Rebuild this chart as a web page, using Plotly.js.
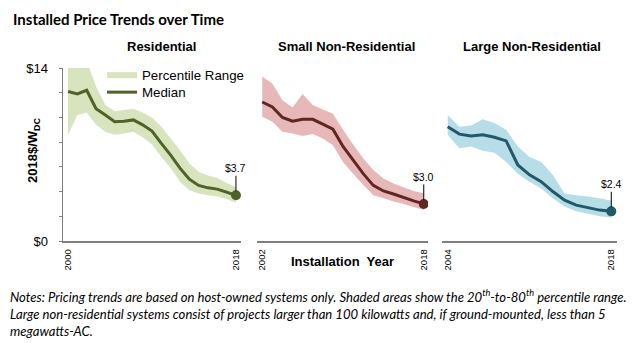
<!DOCTYPE html>
<html>
<head>
<meta charset="utf-8">
<script src="https://cdn.plot.ly/plotly-3.0.1.min.js"></script>
<style>html,body{margin:0;padding:0;background:#fff;}#chart{width:635px;height:343px;}</style>
</head>
<body>
<div id="chart"></div>
<script>
// ---- Data ----
const resYears = [2000,2001,2002,2003,2004,2005,2006,2007,2008,2009,2010,2011,2012,2013,2014,2015,2016,2017,2018];
const resMedian = [12.1,11.9,12.2,10.7,10.2,9.65,9.7,9.8,9.4,8.9,7.9,6.95,5.9,5.0,4.5,4.3,4.2,3.95,3.7];
const resUpper  = [15.0,15.0,14.6,12.5,11.0,10.5,10.6,10.7,10.4,10.0,9.25,8.3,7.35,6.3,5.6,5.3,5.1,4.7,4.35];
const resLower  = [8.6,10.2,10.4,9.4,8.85,8.6,8.7,8.85,8.4,7.8,6.8,5.9,4.8,4.1,3.85,3.7,3.6,3.4,3.1];

const smlYears = [2002,2003,2004,2005,2006,2007,2008,2009,2010,2011,2012,2013,2014,2015,2016,2017,2018];
const smlMedian = [11.25,10.85,10.0,9.7,9.85,9.85,9.45,9.05,7.65,6.55,5.45,4.5,4.05,3.8,3.5,3.25,3.0];
const smlUpper  = [13.3,12.75,11.4,10.8,11.9,11.0,10.65,10.3,9.0,7.8,6.7,5.75,5.05,4.65,4.35,4.05,3.85];
const smlLower  = [10.05,9.65,8.85,8.7,8.5,8.65,8.3,7.75,6.4,5.45,4.55,3.7,3.45,3.2,3.0,2.75,2.5];

const lrgYears = [2004,2005,2006,2007,2008,2009,2010,2011,2012,2013,2014,2015,2016,2017,2018];
const lrgMedian = [9.25,8.65,8.5,8.6,8.4,8.1,6.15,5.35,4.8,4.0,3.3,2.9,2.7,2.5,2.4];
const lrgUpper  = [10.2,9.25,9.35,9.85,9.55,9.0,7.65,6.8,6.4,5.35,3.85,3.7,3.6,3.45,3.25];
const lrgLower  = [8.6,7.5,7.65,7.3,7.15,6.4,5.45,4.8,4.25,3.45,2.8,2.4,2.2,2.0,1.9];

const endLabels = ['$3.7','$3.0','$2.4'];
const panelTitles = ['Residential','Small Non-Residential','Large Non-Residential'];
const yTickVals = [0,14];
const yTickText = ['$0','$14'];

const panels = [
  {years: resYears, med: resMedian, up: resUpper, lo: resLower, band: '#d7e4bd', line: '#4f6228', xa: 'x', range: [1999.46, 2018.54], dom: [63/635, 241/635], tx: 161},
  {years: smlYears, med: smlMedian, up: smlUpper, lo: smlLower, band: '#e6b9b8', line: '#632523', xa: 'x2', range: [2001.48, 2018.42], dom: [257/635, 428/635], tx: 346},
  {years: lrgYears, med: lrgMedian, up: lrgUpper, lo: lrgLower, band: '#b7dde8', line: '#215968', xa: 'x3', range: [2003.51, 2018.49], dom: [442/635, 617/635], tx: 532}
];

const traces = [];
const annotations = [];
panels.forEach((p, i) => {
  const bandX = p.years.concat(p.years.slice().reverse());
  const bandY = p.up.concat(p.lo.slice().reverse());
  traces.push({x: bandX, y: bandY, xaxis: p.xa, yaxis: 'y', type: 'scatter', mode: 'none', fill: 'toself',
    fillcolor: p.band, hoverinfo: 'skip', name: 'Percentile Range', showlegend: i === 0, legend: 'legend'});
  traces.push({x: p.years, y: p.med, xaxis: p.xa, yaxis: 'y', type: 'scatter', mode: 'lines',
    line: {color: p.line, width: 3}, name: 'Median', showlegend: i === 0, legend: 'legend2'});
  const n = p.years.length - 1;
  traces.push({x: [p.years[n]], y: [p.med[n]], xaxis: p.xa, yaxis: 'y', type: 'scatter', mode: 'markers',
    marker: {color: p.line, size: 10}, showlegend: false, hoverinfo: 'skip'});
  annotations.push({x: p.years[n], y: p.med[n], xref: p.xa, yref: 'y', text: endLabels[i],
    showarrow: true, arrowhead: 0, arrowwidth: 1, arrowcolor: '#000', ax: 0, ay: -27, standoff: 4,
    font: {family: 'Arial, Liberation Sans', size: 10.5, color: '#000'}});
  annotations.push({x: p.tx / 635, y: (343 - 47) / 343, xref: 'paper', yref: 'paper',
    text: '<b>' + panelTitles[i] + '</b>', showarrow: false, xanchor: 'center', yanchor: 'middle',
    font: {family: 'Arial, Liberation Sans', size: 13, color: '#000'}});
});

annotations.push({x: 11/635, y: (343 - 19)/343, xref: 'paper', yref: 'paper', xanchor: 'left', yanchor: 'middle',
  text: '<b>Installed Price Trends over Time</b>', showarrow: false,
  font: {family: 'Lato, Open Sans', size: 15, color: '#000'}});
annotations.push({x: 343/635, y: (343 - 261)/343, xref: 'paper', yref: 'paper', xanchor: 'center', yanchor: 'middle',
  text: '<b>Installation  Year</b>', showarrow: false,
  font: {family: 'Arial, Liberation Sans', size: 13, color: '#000'}});
annotations.push({x: 33/635, y: (343 - 150)/343, xref: 'paper', yref: 'paper', xanchor: 'center', yanchor: 'middle',
  text: '<b>2018$/W<sub>DC</sub></b>', showarrow: false, textangle: -90,
  font: {family: 'Arial, Liberation Sans', size: 13, color: '#000'}});
annotations.push({x: 8/635, y: (343 - 313)/343, xref: 'paper', yref: 'paper', xanchor: 'left', yanchor: 'middle', align: 'left',
  text: '<i>Notes: Pricing trends are based on host-owned systems only. Shaded areas show the 20<sup>th</sup>-to-80<sup>th</sup> percentile range.<br>Large non-residential systems consist of projects larger than 100 kilowatts and, if ground-mounted, less than 5<br>megawatts-AC.</i>',
  showarrow: false, font: {family: 'Lato, Open Sans', size: 13.1, color: '#000'}});

function xaxisDef(p) {
  return {domain: p.dom, range: p.range, tickvals: [p.years[0], 2018], ticktext: [String(p.years[0]), '2018'],
    tickangle: -90, tickfont: {family: 'Arial, Liberation Sans', size: 9.5, color: '#000'}, ticklabelstandoff: 3,
    showline: true, linecolor: '#7f7f7f', linewidth: 1.5, ticks: '', showgrid: false, zeroline: false,
    anchor: 'y', fixedrange: true};
}

const legendFont = {family: 'Arial, Liberation Sans', size: 13.3, color: '#000'};
const layout = {
  width: 635, height: 343,
  margin: {l: 0, r: 0, t: 0, b: 0},
  paper_bgcolor: '#fff', plot_bgcolor: 'rgba(0,0,0,0)',
  showlegend: true,
  legend: {x: 102/635, y: (343 - 60)/343, xanchor: 'left', yanchor: 'top', bgcolor: 'rgba(0,0,0,0)',
    font: legendFont, itemwidth: 30},
  legend2: {x: 102/635, y: (343 - 77)/343, xanchor: 'left', yanchor: 'top', bgcolor: 'rgba(0,0,0,0)',
    font: legendFont, itemwidth: 30},
  xaxis: xaxisDef(panels[0]),
  xaxis2: xaxisDef(panels[1]),
  xaxis3: xaxisDef(panels[2]),
  yaxis: {domain: [102/343, 275/343], range: [0, 14], tickvals: yTickVals, ticktext: yTickText,
    ticks: 'outside', ticklen: 3, tickcolor: '#7f7f7f', tickwidth: 1, ticklabelstandoff: 8,
    minor: {dtick: 2, tick0: 0, ticks: 'outside', ticklen: 3, tickcolor: '#7f7f7f', tickwidth: 1, showgrid: false},
    showline: true, linecolor: '#7f7f7f', linewidth: 1.5, showgrid: false, zeroline: false,
    tickfont: {family: 'Arial, Liberation Sans', size: 13, color: '#000'},
    anchor: 'x', fixedrange: true},
  annotations: annotations
};

Plotly.newPlot('chart', traces, layout, {displayModeBar: false, staticPlot: true});
</script>
</body>
</html>
